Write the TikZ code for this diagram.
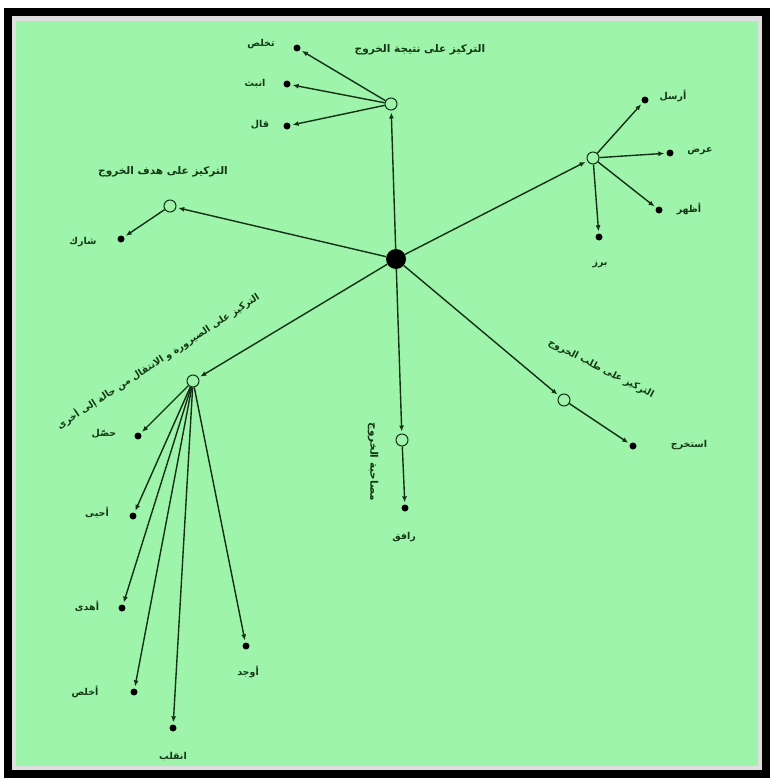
\documentclass[tikz,border=0pt]{standalone}
\usepackage{fontspec}
\newfontfamily\arabicfont[Script=Arabic]{DejaVu Sans}
\TeXXeTstate=1
\usetikzlibrary{arrows.meta}
\definecolor{bggreen}{RGB}{158,244,170}
\definecolor{linec}{RGB}{20,48,22}
\definecolor{txtc}{RGB}{20,56,22}
\newcommand{\rtl}[1]{\beginR #1\endR}
\tikzset{
  hub/.style={circle,draw=linec,fill=bggreen,line width=1pt,minimum size=12pt,inner sep=0pt},
  leaf/.style={circle,fill=black,minimum size=7pt,inner sep=0pt},
  core/.style={circle,fill=black,minimum size=20pt,inner sep=0pt},
  arr/.style={draw=linec,line width=1.4pt,-{Latex[length=6pt,width=5pt]},shorten >=2pt},
  lbl/.style={font=\arabicfont\bfseries\fontsize{9.5}{11}\selectfont,text=txtc,inner sep=1pt},
  ttl/.style={font=\arabicfont\bfseries\fontsize{10.5}{12}\selectfont,text=txtc,inner sep=1pt},
  ttlsmall/.style={ttl,font=\arabicfont\bfseries\fontsize{9.5}{11}\selectfont}
}
\begin{document}
\begin{tikzpicture}[x=1pt,y=-1pt]
\useasboundingbox (0,0) rectangle (774,784);
\fill[white] (0,0) rectangle (774,784);
\fill[black] (4,8) rectangle (770,778);
\fill[gray!25] (12,16) rectangle (762,770);
\fill[bggreen] (16,21) rectangle (758,766);
% core and hubs
\node[core] (C) at (396,259) {};
\node[hub] (T) at (391,104) {};
\node[hub] (R) at (593,158) {};
\node[hub] (L) at (170,206) {};
\node[hub] (LL) at (193,381) {};
\node[hub] (LR) at (564,400) {};
\node[hub] (D) at (402,440) {};
% leaves
\node[leaf] (t1) at (297,48) {};
\node[leaf] (t2) at (287,84) {};
\node[leaf] (t3) at (287,126) {};
\node[leaf] (r1) at (645,100) {};
\node[leaf] (r2) at (670,153) {};
\node[leaf] (r3) at (659,210) {};
\node[leaf] (r4) at (599,237) {};
\node[leaf] (l1) at (121,239) {};
\node[leaf] (ll1) at (138,436) {};
\node[leaf] (ll2) at (133,516) {};
\node[leaf] (ll3) at (122,608) {};
\node[leaf] (ll4) at (134,692) {};
\node[leaf] (ll5) at (173,728) {};
\node[leaf] (ll6) at (246,646) {};
\node[leaf] (lr1) at (633,446) {};
\node[leaf] (d1) at (405,508) {};
% connectors
\foreach \h in {T,R,L,LL,LR,D} \draw[arr] (C) -- (\h);
\foreach \l in {t1,t2,t3} \draw[arr] (T) -- (\l);
\foreach \l in {r1,r2,r3,r4} \draw[arr] (R) -- (\l);
\draw[arr] (L) -- (l1);
\foreach \l in {ll1,ll2,ll3,ll4,ll5,ll6} \draw[arr] (LL) -- (\l);
\draw[arr] (LR) -- (lr1);
\draw[arr] (D) -- (d1);
% titles
\node[ttl] (tT) at (420,50) {\rtl{التركيز على نتيجة الخروج}};
\node[ttl] (tL) at (163,172) {\rtl{التركيز على هدف الخروج}};
\node[ttlsmall,rotate=33] (tLL) at (158,361) {\rtl{التركيز على الصيرورة و الانتقال من حالة إلى أخرى}};
\node[ttlsmall,rotate=-27] (tLR) at (601,369) {\rtl{التركيز على طلب الخروج}};
\node[ttl,rotate=-90] (tD) at (373,462) {\rtl{مصاحبة الخروج}};
% leaf labels
\node[lbl] at (261,44) {\rtl{تخلص}};
\node[lbl] at (255,84) {\rtl{انبث}};
\node[lbl] at (260,125) {\rtl{قال}};
\node[lbl] at (673,96) {\rtl{أرسل}};
\node[lbl] at (700,151) {\rtl{عرض}};
\node[lbl] at (689,209) {\rtl{أظهر}};
\node[lbl] at (600,264) {\rtl{برز}};
\node[lbl] at (83,242) {\rtl{شارك}};
\node[lbl] at (104,434) {\rtl{حصّل}};
\node[lbl] at (97,513) {\rtl{أحيى}};
\node[lbl] at (87,606) {\rtl{أهدى}};
\node[lbl] at (85,692) {\rtl{أخلص}};
\node[lbl] at (173,757) {\rtl{انقلب}};
\node[lbl] at (248,672) {\rtl{أوجد}};
\node[lbl] at (689,445) {\rtl{استخرج}};
\node[lbl] at (404,537) {\rtl{رافق}};
\end{tikzpicture}
\end{document}
